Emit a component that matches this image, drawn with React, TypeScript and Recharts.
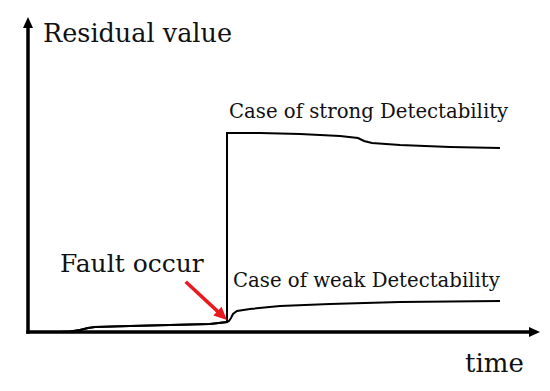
import React from 'react';
import { LineChart, Line, XAxis, YAxis, ReferenceDot, ReferenceLine } from 'recharts';

// time axis units and residual units
const preFaultTime = [4, 32, 42, 52, 60, 67, 102, 142, 182, 199];
const preFaultValue = [0, 0, 0.5, 2, 4, 5, 6, 7, 8, 10];

const strongTime = [199, 232, 272, 312, 330, 336, 344, 372, 422, 472];
const strongValue = [199, 199, 198, 196, 194, 191, 189, 187, 185, 184];

const weakTime = [201, 203, 205, 209, 222, 252, 302, 372, 472];
const weakValue = [11, 14, 18, 21, 23, 26, 28, 30, 31];

const faultArrowFrom = { x: 159, y: 49 };
const faultArrowTo = { x: 199, y: 12 };

const X_MAX = 512;
const Y_MAX = 315;

const labels = [
  { text: 'Residual value', x: 15, y: 290, size: 25.5 },
  { text: 'Case of strong Detectability', x: 201, y: 214, size: 19.7 },
  { text: 'Fault occur', x: 32, y: 60, size: 25 },
  { text: 'Case of weak Detectability', x: 205, y: 45, size: 19.7 },
  { text: 'time', x: 437, y: -40, size: 26 },
];

const zip = (t: number[], v: number[]) => t.map((x, i) => ({ t: x, v: v[i] }));
const strongData = [...zip(preFaultTime, preFaultValue), ...zip(strongTime, strongValue)];
const weakData = [...zip(preFaultTime, preFaultValue), ...zip(weakTime, weakValue)];

const FONT = '"DejaVu Serif", serif';

const makeArrow = (color: string, width: number, L: number, W: number) => (props: any) => {
  const x1 = props.x1 ?? props.points?.[0]?.x;
  const y1 = props.y1 ?? props.points?.[0]?.y;
  const x2 = props.x2 ?? props.points?.[1]?.x;
  const y2 = props.y2 ?? props.points?.[1]?.y;
  if ([x1, y1, x2, y2].some((v) => v == null || isNaN(v))) return null;
  const ang = Math.atan2(y2 - y1, x2 - x1);
  const bx = x2 - L * Math.cos(ang);
  const by = y2 - L * Math.sin(ang);
  const px = -Math.sin(ang) * W;
  const py = Math.cos(ang) * W;
  const ext = width / 2;
  const sx = x1 - ext * Math.cos(ang);
  const sy = y1 - ext * Math.sin(ang);
  return (
    <g>
      <line x1={sx} y1={sy} x2={bx + 1 * Math.cos(ang)} y2={by + 1 * Math.sin(ang)} stroke={color} strokeWidth={width} />
      <polygon points={`${x2},${y2} ${bx + px},${by + py} ${bx - px},${by - py}`} fill={color} />
    </g>
  );
};

const RedArrow = makeArrow('#e8191f', 3.5, 13, 6);
const AxisArrow = makeArrow('#000', 3.5, 11, 5);

const makeText = (text: string, size: number) => (props: any) => (
  <text x={props.cx} y={props.cy} fontFamily={FONT} fontSize={size} fill="#111">
    {text}
  </text>
);

export default function App() {
  return (
    <div style={{ position: 'absolute', left: 0, top: 0, background: '#fff' }}>
      <LineChart width={550} height={391} margin={{ top: 17, right: 10, bottom: 59, left: 28 }}>
        <XAxis dataKey="t" type="number" domain={[0, X_MAX]} hide allowDataOverflow />
        <YAxis dataKey="v" type="number" domain={[0, Y_MAX]} hide allowDataOverflow />
        <Line data={strongData} dataKey="v" type="linear" stroke="#000" strokeWidth={2} dot={false} isAnimationActive={false} />
        <Line data={weakData} dataKey="v" type="linear" stroke="#000" strokeWidth={2} dot={false} isAnimationActive={false} />
        <ReferenceLine segment={[{ x: 0, y: 0 }, { x: 0, y: Y_MAX }]} shape={AxisArrow} ifOverflow="visible" />
        <ReferenceLine segment={[{ x: 0, y: 0 }, { x: X_MAX, y: 0 }]} shape={AxisArrow} ifOverflow="visible" />
        <ReferenceLine segment={[faultArrowFrom, faultArrowTo]} shape={RedArrow} ifOverflow="visible" />
        {labels.map((l) => (
          <ReferenceDot key={l.text} x={l.x} y={l.y} r={0} ifOverflow="visible" shape={makeText(l.text, l.size)} />
        ))}
      </LineChart>
    </div>
  );
}
